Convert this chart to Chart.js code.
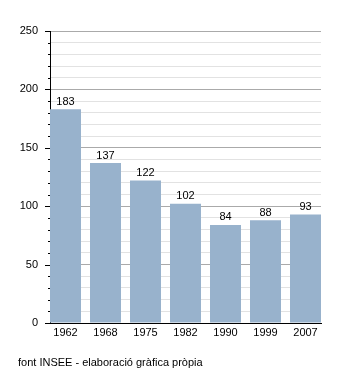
<!DOCTYPE html>
<html>
<head>
<meta charset="utf-8">
<script src="https://cdn.jsdelivr.net/npm/chart.js@4/dist/chart.umd.min.js"></script>
<style>
  body { margin: 0; background: #fff; }
  #wrap { position: relative; width: 350px; height: 373px; }
  #caption {
    position: absolute; left: 18px; top: 356px;
    font: 11px "Liberation Sans", Arial, sans-serif; color: #000;
  }
</style>
</head>
<body>
<div id="wrap">
  <canvas id="myChart" width="350" height="373"></canvas>
  <div id="caption">font INSEE - elaboració gràfica pròpia</div>
</div>
<script>
var years = ["1962", "1968", "1975", "1982", "1990", "1999", "2007"];
var population = [183, 137, 122, 102, 84, 88, 93];
var yMax = 250;

var barWidthFrac = 0.775; // share of the step taken by a bar

// value labels on top of the bars
var valueLabels = {
  id: 'valueLabels',
  afterDatasetsDraw: function(chart) {
    var ctx = chart.ctx;
    var meta = chart.getDatasetMeta(0);
    ctx.save();
    ctx.font = '11px "Liberation Sans", Arial, sans-serif';
    ctx.fillStyle = '#000';
    ctx.textAlign = 'center';
    ctx.textBaseline = 'bottom';
    meta.data.forEach(function(bar, i) {
      ctx.fillText(population[i], bar.x, bar.y - 2);
    });
    ctx.restore();
  }
};

// little tick marks left of the y axis (long at 50s, short otherwise)
var yTickMarks = {
  id: 'yTickMarks',
  afterDraw: function(chart) {
    var ctx = chart.ctx;
    var y = chart.scales.y;
    ctx.save();
    ctx.strokeStyle = '#000';
    ctx.lineWidth = 1;
    y.ticks.forEach(function(t) {
      var py = Math.round(y.getPixelForValue(t.value)) + 0.5;
      var len = t.value % 50 === 0 ? 5 : 2;
      ctx.beginPath();
      ctx.moveTo(y.right - len, py);
      ctx.lineTo(y.right, py);
      ctx.stroke();
    });
    ctx.restore();
  }
};

var data = {
  datasets: [{
    data: population.map(function(v, i) { return { x: i, y: v }; }),
    backgroundColor: '#98b2cc',
    borderWidth: 0,
    categoryPercentage: 1,
    barPercentage: barWidthFrac
  }]
};

var ctx = document.getElementById('myChart').getContext('2d');
var myChart = new Chart(ctx, {
  type: 'bar',
  data: data,
  plugins: [valueLabels, yTickMarks],
  options: {
    responsive: false,
    animation: false,
    events: [],
    layout: { padding: { top: 31, right: 29, left: 0, bottom: 0 } },
    plugins: { legend: { display: false }, tooltip: { enabled: false } },
    scales: {
      x: {
        type: 'linear',
        offset: false,
        min: -barWidthFrac / 2,
        max: years.length - 1 + barWidthFrac / 2,
        grid: { display: false, drawTicks: false },
        border: { color: '#000', width: 1 },
        ticks: {
          stepSize: 1,
          includeBounds: false,
          autoSkip: false,
          maxRotation: 0,
          padding: 3,
          color: '#000',
          font: { family: '"Liberation Sans", Arial, sans-serif', size: 11 },
          callback: function(v) { return Number.isInteger(v) ? years[v] : ''; }
        },
        afterFit: function(scale) { scale.height = 50; }
      },
      y: {
        min: 0,
        max: yMax,
        grid: {
          drawTicks: false,
          color: function(c) { return c.tick.value % 50 === 0 ? '#aaaaaa' : '#e2e2e2'; }
        },
        border: { color: '#000', width: 1 },
        ticks: {
          stepSize: 10,
          autoSkip: false,
          padding: 12,
          color: '#000',
          font: { family: '"Liberation Sans", Arial, sans-serif', size: 11 },
          callback: function(v) { return v % 50 === 0 ? v : ''; }
        },
        afterFit: function(scale) { scale.width = 50; }
      }
    }
  }
});
</script>
</body>
</html>
